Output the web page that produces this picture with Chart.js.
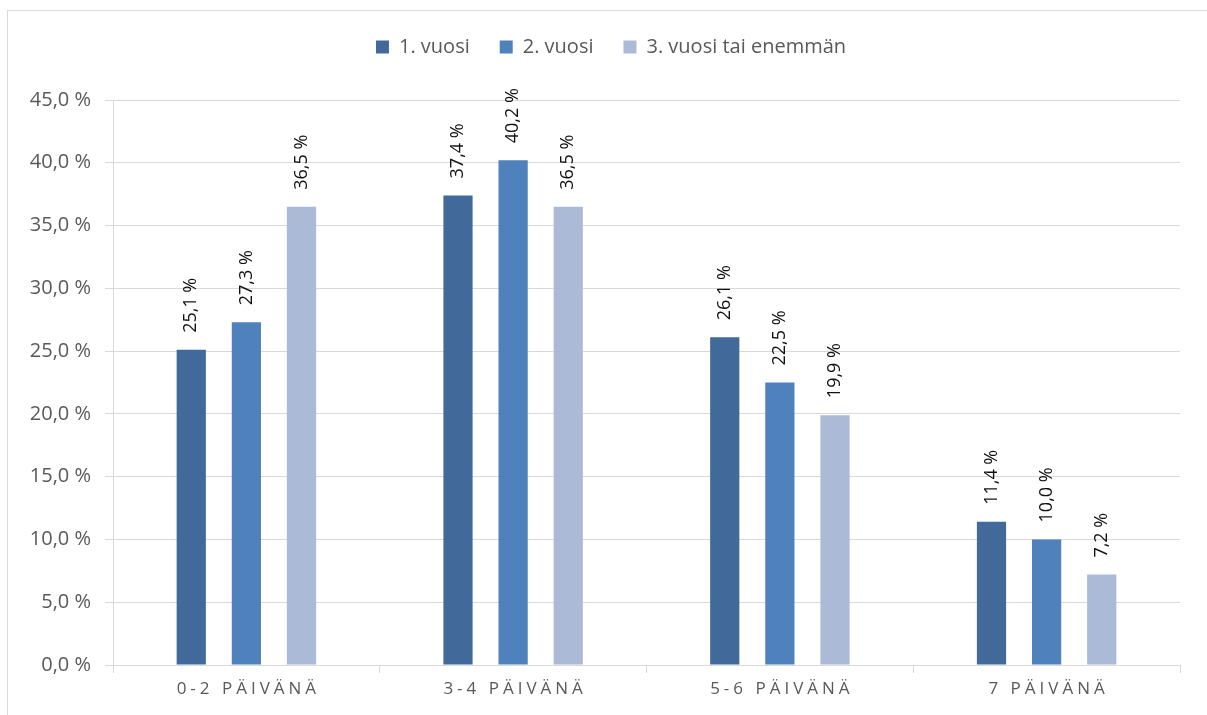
<!DOCTYPE html>
<html>
<head>
<meta charset="utf-8">
<script src="https://cdn.jsdelivr.net/npm/chart.js@4.4.1/dist/chart.umd.min.js"></script>
<style>
  html, body { margin: 0; padding: 0; background: #fff; }
  #wrap { position: relative; width: 1207px; height: 715px; overflow: hidden; }
  #frame { position: absolute; left: 7px; top: 10px; width: 1300px; height: 800px;
           border-left: 1px solid #d9d9d9; border-top: 1px solid #d9d9d9; pointer-events: none; }
  canvas { position: absolute; left: 0; top: 0; }
</style>
</head>
<body>
<div id="wrap">
  <canvas id="c" width="1207" height="715"></canvas>
  <div id="frame"></div>
</div>
<script>
const categories = ['0-2 PÄIVÄNÄ', '3-4 PÄIVÄNÄ', '5-6 PÄIVÄNÄ', '7 PÄIVÄNÄ'];
const seriesNames = ['1. vuosi', '2. vuosi', '3. vuosi tai enemmän'];
const year1 = [25.1, 37.4, 26.1, 11.4];
const year2 = [27.3, 40.2, 22.5, 10.0];
const year3 = [36.5, 36.5, 19.9, 7.2];
const yTicks = [0, 5, 10, 15, 20, 25, 30, 35, 40, 45];
const colors = ['#416A9B', '#4F81BD', '#AABAD7'];

const FONT = '"Open Sans", Lato, sans-serif';
const fmt = v => v.toFixed(1).replace('.', ',') + ' %';

const legendSpace = {
  id: 'legendSpace',
  afterInit(chart) {
    const lg = chart.legend;
    if (!lg) return;
    const origFit = lg.fit;
    lg.fit = function () { origFit.call(lg); lg.height += 33; };
    const origDraw = lg.draw;
    lg.draw = function () {
      const ctx = chart.ctx;
      ctx.save();
      ctx.translate(21, 0);
      origDraw.call(lg);
      ctx.restore();
    };
  }
};

const xLetterSpacing = {
  id: 'xLetterSpacing',
  afterLayout(chart) {
    const s = chart.scales.x;
    if (!s || s._lsWrapped) return;
    const orig = s.drawLabels.bind(s);
    s.drawLabels = function (area) {
      const ctx = chart.ctx;
      ctx.save();
      ctx.letterSpacing = '4px';
      ctx.translate(2, 0);
      orig(area);
      ctx.restore();
    };
    s._lsWrapped = true;
  }
};

const barLabels = {
  id: 'barLabels',
  afterDatasetsDraw(chart) {
    const ctx = chart.ctx;
    ctx.save();
    ctx.font = '18px ' + FONT;
    ctx.fillStyle = '#111111';
    ctx.textAlign = 'left';
    ctx.textBaseline = 'middle';
    chart.data.datasets.forEach((ds, di) => {
      const meta = chart.getDatasetMeta(di);
      meta.data.forEach((bar, i) => {
        ctx.save();
        ctx.translate(bar.x, bar.y - 17);
        ctx.rotate(-Math.PI / 2);
        ctx.fillText(fmt(ds.data[i]), 0, 0);
        ctx.restore();
      });
    });
    ctx.restore();
  }
};

new Chart(document.getElementById('c'), {
  type: 'bar',
  data: {
    labels: categories,
    datasets: [
      { label: seriesNames[0], data: year1, backgroundColor: colors[0] },
      { label: seriesNames[1], data: year2, backgroundColor: colors[1] },
      { label: seriesNames[2], data: year3, backgroundColor: colors[2] }
    ]
  },
  options: {
    responsive: false,
    animation: false,
    events: [],
    layout: { padding: { top: 7, right: 27, bottom: 0, left: 0 } },
    datasets: { bar: { categoryPercentage: 0.62, barPercentage: 0.53 } },
    plugins: {
      legend: {
        position: 'top',
        labels: {
          boxWidth: 13, boxHeight: 13, padding: 30,
          color: '#595959',
          font: { family: FONT, size: 20 }
        }
      },
      tooltip: { enabled: false }
    },
    scales: {
      x: {
        afterFit(s) { s.height = 50; },
        grid: { offset: true, drawOnChartArea: false, drawTicks: true, tickLength: 8, color: '#d9d9d9' },
        border: { display: true, color: '#d9d9d9', width: 1 },
        ticks: { color: '#595959', font: { family: FONT, size: 17 }, padding: 6 }
      },
      y: {
        min: 0, max: 45,
        afterFit(s) { s.width = 113; },
        afterBuildTicks(s) { s.ticks = yTicks.map(v => ({ value: v })); },
        grid: { color: '#d9d9d9', tickLength: 8, drawTicks: true },
        border: { display: true, color: '#d9d9d9', width: 1 },
        ticks: { color: '#595959', font: { family: FONT, size: 20 }, padding: 14, callback: v => fmt(v) }
      }
    }
  },
  plugins: [legendSpace, xLetterSpacing, barLabels]
});
</script>
</body>
</html>
